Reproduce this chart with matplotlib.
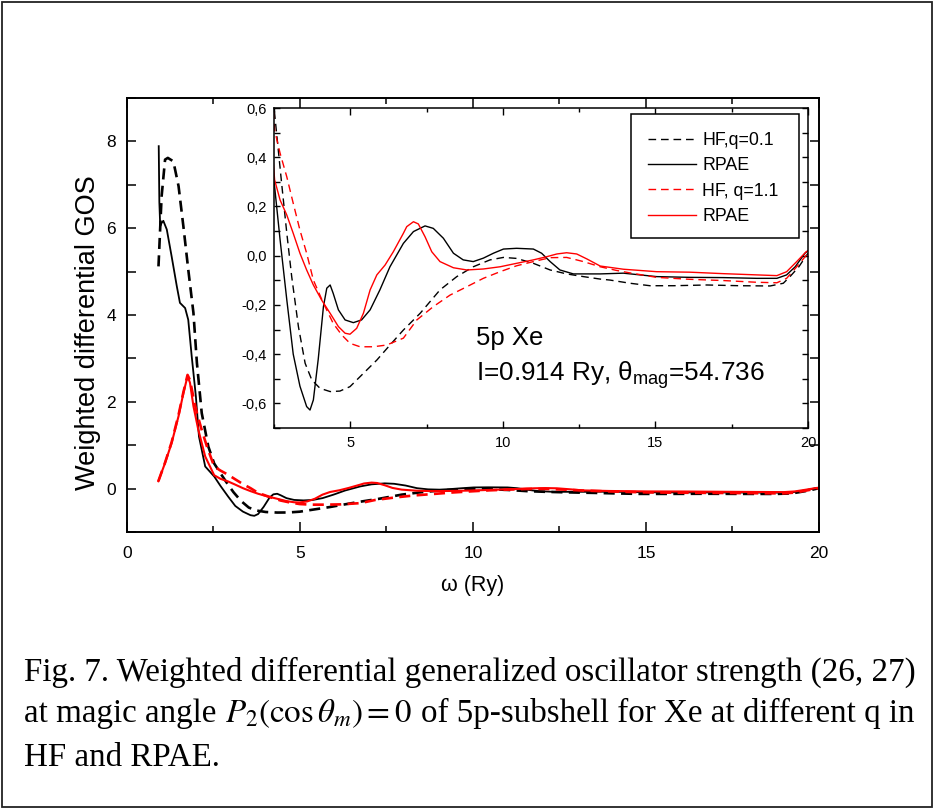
import matplotlib
matplotlib.use("Agg")
import matplotlib.pyplot as plt
from matplotlib.ticker import MultipleLocator, FixedLocator, FixedFormatter
from matplotlib.patches import Rectangle

plt.rcParams['font.family'] = ['Liberation Sans', 'DejaVu Sans']
plt.rcParams['mathtext.fontset'] = 'stix'

# ---------------- data ----------------
hf01_x = [0.91, 1.0, 1.10, 1.18, 1.34, 1.49, 1.63, 1.77, 1.92, 2.02, 2.16, 2.35, 2.52, 2.64, 2.75,
          2.92, 3.08, 3.30, 3.52, 3.74, 4.01, 4.34, 4.66, 4.99, 5.43, 5.87, 6.30, 6.74, 7.29, 7.94,
          8.49, 9.03, 9.58, 10.02, 10.45, 11.0, 11.55, 12.09, 12.64, 13.19, 13.51, 14.17, 14.82,
          15.59, 16.68, 17.77, 18.76, 19.19, 19.41, 19.7, 20.0]
hf01_y = [5.12, 6.73, 7.58, 7.62, 7.54, 6.97, 6.04, 5.05, 4.05, 2.9, 1.74, 0.97, 0.578, 0.43, 0.294,
          0.091, -0.085, -0.288, -0.437, -0.505, -0.539, -0.552, -0.55, -0.532, -0.478, -0.424,
          -0.363, -0.302, -0.234, -0.139, -0.085, -0.045, -0.017, -0.007, -0.011, -0.031, -0.058,
          -0.074, -0.085, -0.095, -0.099, -0.112, -0.122, -0.122, -0.119, -0.122, -0.123, -0.112,
          -0.085, -0.045, 0.01]

rpa01_x = [0.917, 0.935, 0.96, 1.0, 1.05, 1.15, 1.29, 1.44, 1.53, 1.68, 1.77, 1.87, 1.99, 2.08, 2.26,
           2.52, 2.70, 2.92, 3.13, 3.35, 3.57, 3.68, 3.79, 3.95, 4.12, 4.23, 4.34, 4.44, 4.61, 4.83,
           5.10, 5.37, 5.65, 5.97, 6.30, 6.74, 7.07, 7.45, 7.72, 8.05, 8.38, 8.70, 9.03, 9.36, 9.69,
           10.02, 10.45, 11.0, 11.27, 11.55, 11.87, 12.31, 13.19, 13.95, 15.04, 16.13, 17.23, 18.32,
           18.98, 19.30, 19.58, 19.9, 20.0]
rpa01_y = [7.89, 6.6, 6.05, 6.12, 6.17, 5.97, 5.35, 4.66, 4.28, 4.16, 3.89, 3.05, 2.13, 1.2, 0.51,
           0.28, 0.064, -0.18, -0.40, -0.53, -0.613, -0.627, -0.586, -0.42, -0.207, -0.132, -0.119,
           -0.153, -0.22, -0.261, -0.272, -0.261, -0.22, -0.139, -0.045, 0.05, 0.098, 0.121, 0.111,
           0.071, 0.01, -0.017, -0.024, -0.01, 0.01, 0.027, 0.03, 0.027, 0.01, -0.024, -0.058, -0.074,
           -0.074, -0.071, -0.085, -0.088, -0.089, -0.092, -0.092, -0.078, -0.045, 0.01, 0.02]

hf11_x = [0.906, 1.10, 1.29, 1.49, 1.63, 1.75, 1.82, 1.92, 2.02, 2.16, 2.31, 2.52, 2.70, 2.92, 3.13,
          3.35, 3.57, 3.79, 4.12, 4.44, 4.72, 4.99, 5.32, 5.75, 6.19, 6.74, 7.18, 7.72, 8.27, 8.82,
          9.36, 9.91, 10.45, 11.0, 11.55, 12.09, 12.64, 13.19, 13.73, 14.17, 15.04, 16.13, 17.23,
          18.32, 18.98, 19.30, 19.63, 20.0]
hf11_y = [0.17, 0.6, 1.07, 1.70, 2.22, 2.62, 2.50, 2.1, 1.74, 1.35, 0.97, 0.51, 0.416, 0.32, 0.213,
          0.104, 0.01, -0.099, -0.193, -0.275, -0.322, -0.356, -0.37, -0.37, -0.363, -0.335, -0.261,
          -0.207, -0.16, -0.126, -0.092, -0.065, -0.041, -0.024, -0.008, -0.007, -0.024, -0.045,
          -0.06, -0.07, -0.088, -0.096, -0.101, -0.108, -0.11, -0.092, -0.045, 0.01]

rpa11_x = [0.906, 1.10, 1.29, 1.49, 1.63, 1.75, 1.82, 1.92, 2.06, 2.26, 2.52, 2.70, 2.92, 3.13, 3.35,
           3.57, 3.79, 4.06, 4.34, 4.61, 4.83, 4.99, 5.21, 5.43, 5.65, 5.87, 6.14, 6.41, 6.74, 6.85,
           7.07, 7.23, 7.45, 7.67, 7.94, 8.38, 8.82, 9.36, 9.91, 10.45, 11.0, 11.44, 11.77, 12.09,
           12.42, 12.75, 13.19, 13.95, 15.04, 16.13, 17.23, 18.32, 18.98, 19.30, 19.63, 19.94, 20.0]
rpa11_y = [0.17, 0.59, 1.05, 1.67, 2.2, 2.59, 2.44, 1.9, 1.36, 0.74, 0.308, 0.226, 0.165, 0.091, 0.01,
           -0.058, -0.119, -0.18, -0.234, -0.288, -0.315, -0.319, -0.295, -0.234, -0.139, -0.078,
           -0.038, 0.016, 0.091, 0.118, 0.138, 0.129, 0.077, 0.016, -0.024, -0.049, -0.058, -0.054,
           -0.045, -0.031, -0.017, -0.004, 0.007, 0.012, 0.007, -0.013, -0.042, -0.055, -0.065,
           -0.067, -0.073, -0.078, -0.081, -0.065, -0.024, 0.016, 0.02]

legend_labels = ["HF,q=0.1", "RPAE", "HF, q=1.1", "RPAE"]

main_xticks = [0, 5, 10, 15, 20]
main_yticks = [0, 2, 4, 6, 8]
inset_xticks = [5, 10, 15, 20]
inset_yticks = [-0.6, -0.4, -0.2, 0.0, 0.2, 0.4, 0.6]
inset_yticklabels = ["-0,6", "-0,4", "-0,2", "0,0", "0,2", "0,4", "0,6"]

caption1 = "Fig. 7. Weighted differential generalized oscillator strength (26, 27)"
caption2a = "at magic angle"
caption2b = r"$P_2(\cos\theta_m) = 0$"
caption2c = "of 5p-subshell for Xe at different q in"
caption3 = "HF and RPAE."

# ---------------- figure ----------------
W, H = 937, 810
fig = plt.figure(figsize=(W / 100, H / 100), dpi=100)
fig.patch.set_facecolor('white')

def fx(px):
    return px / W

def fy(py):
    return 1 - py / H

# outer frame
fig.patches.append(Rectangle((fx(2), fy(807)), fx(932) - fx(2), fy(2) - fy(807),
                             transform=fig.transFigure, fill=False, lw=1.3, ec='#222222'))

# main axes
ax = fig.add_axes([fx(127), fy(532), fx(819) - fx(127), fy(98) - fy(532)])
ax.set_xlim(0, 20)
ax.set_ylim(-1, 9)
RED = '#ff0000'
ax.plot(hf01_x, hf01_y, color='black', lw=1.9, dashes=(4.2, 2.4))
ax.plot(rpa01_x, rpa01_y, color='black', lw=1.3)
ax.plot(hf11_x, hf11_y, color=RED, lw=1.9, dashes=(4.2, 2.4))
ax.plot(rpa11_x, rpa11_y, color=RED, lw=1.5)

ax.xaxis.set_major_locator(FixedLocator(main_xticks))
ax.xaxis.set_minor_locator(MultipleLocator(2.5))
ax.yaxis.set_major_locator(FixedLocator(main_yticks))
ax.yaxis.set_minor_locator(MultipleLocator(1))
ax.tick_params(which='both', direction='in', top=True, right=True, width=1.1)
ax.tick_params(axis='x', which='major', length=7, pad=10, labelsize=12.5)
ax.tick_params(axis='x', which='minor', length=4.3)
ax.tick_params(axis='y', which='major', length=6.5, pad=8, labelsize=12.5)
ax.tick_params(axis='y', which='minor', length=6.5)
for s in ax.spines.values():
    s.set_linewidth(1.4)

ax.set_xlabel("ω (Ry)", fontsize=15.5)
ax.set_ylabel("Weighted differential GOS", fontsize=19.5)
ax.xaxis.label.set_va('center')
ax.yaxis.label.set_va('center')
ax.xaxis.set_label_coords((473 - 127) / 692, (532 - 585) / 434)
ax.yaxis.set_label_coords((88 - 127) / 692, (532 - 333) / 434)

# inset axes
ax2 = fig.add_axes([fx(274), fy(428), fx(808) - fx(274), fy(108) - fy(428)])
ax2.set_xlim(2.5, 20)
ax2.set_ylim(-0.7, 0.6)
l1, = ax2.plot(hf01_x, hf01_y, color='black', lw=1.0, dashes=(5.5, 3.5))
l2, = ax2.plot(rpa01_x, rpa01_y, color='black', lw=1.0)
l3, = ax2.plot(hf11_x, hf11_y, color=RED, lw=1.0, dashes=(5.5, 3.5))
l4, = ax2.plot(rpa11_x, rpa11_y, color=RED, lw=1.0)

ax2.xaxis.set_major_locator(FixedLocator(inset_xticks))
ax2.xaxis.set_minor_locator(MultipleLocator(2.5))
ax2.yaxis.set_major_locator(FixedLocator(inset_yticks))
ax2.yaxis.set_major_formatter(FixedFormatter(inset_yticklabels))
ax2.yaxis.set_minor_locator(MultipleLocator(0.1))
ax2.tick_params(which='both', direction='in', top=True, right=True, width=1.0, labelsize=10.5)
ax2.tick_params(axis='x', which='major', length=4.8, pad=6)
ax2.tick_params(axis='x', which='minor', length=2.9)
ax2.tick_params(axis='y', which='major', length=4, pad=5)
ax2.tick_params(axis='y', which='minor', length=4)
for s in ax2.spines.values():
    s.set_linewidth(1.1)

ax2.text((476 - 274) / 534, (428 - 338) / 320, "5p Xe", transform=ax2.transAxes,
         fontsize=18.5, va='center', ha='left')
ax2.text((476 - 274) / 534, (428 - 375) / 320, r"I=0.914 Ry, $\mathregular{\theta_{mag}}$=54.736",
         transform=ax2.transAxes, fontsize=18.8, va='center', ha='left')

# legend box drawn at its measured place, entries inside it
ax2.add_patch(Rectangle((fx(631), fy(238)), fx(799) - fx(631), fy(114) - fy(238),
                        transform=fig.transFigure, fill=True, fc='white', ec='black',
                        lw=1.1, zorder=4))
leg = ax2.legend([l1, l2, l3, l4], legend_labels, loc='upper left',
                 bbox_to_anchor=(fx(648), fy(132)), bbox_transform=fig.transFigure,
                 fontsize=12.8, frameon=False, borderaxespad=0, borderpad=0,
                 labelspacing=0.47, handlelength=2.7, handletextpad=0.35)
leg.set_zorder(5)

# caption
cap_kw = dict(family=['Liberation Serif', 'DejaVu Serif'], fontsize=23.8, va='baseline')
fig.text(fx(24), fy(681), caption1, ha='left', **cap_kw)
fig.text(fx(24), fy(722), caption2a, ha='left', **cap_kw)
fig.text(fx(225), fy(722), caption2b, ha='left', **cap_kw)
fig.text(fx(915), fy(722), caption2c, ha='right', **cap_kw)
fig.text(fx(24), fy(766), caption3, ha='left', **cap_kw)

fig.savefig("out.png", dpi=100)
